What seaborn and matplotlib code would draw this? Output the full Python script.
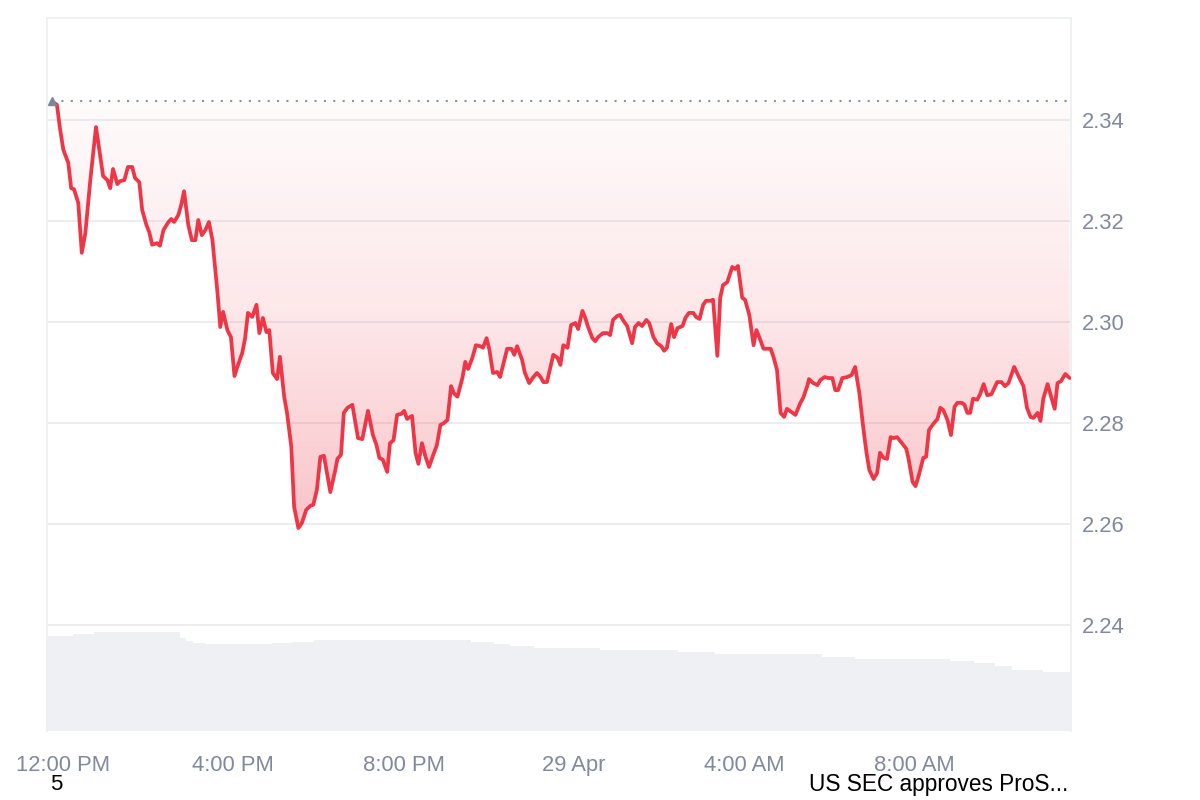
import numpy as np
import pandas as pd
import matplotlib
matplotlib.use("Agg")
import matplotlib.pyplot as plt
import matplotlib.dates as mdates
from matplotlib.colors import LinearSegmentedColormap
import seaborn as sns

# ---------------- data ----------------
start_time = "2025-04-28 12:00"   # minutes below are relative to this moment

minutes = [-15, -8, -4, 1, 8, 12, 16, 22, 27, 32, 39, 47, 51, 57, 63, 67, 71, 77, 81, 87,
           92, 98, 102, 108, 112, 118, 122, 126, 133, 137, 142, 149, 153, 157, 163, 167, 171, 177, 182, 187,
           191, 196, 201, 206, 211, 218, 222, 226, 232, 237, 242, 247, 253, 257, 261, 267, 273, 277, 282, 287,
           291, 296, 302, 306, 312, 316, 322, 326, 332, 337, 343, 349, 353, 358, 363, 368, 377, 384, 387, 392,
           396, 401, 408, 416, 422, 430, 437, 442, 446, 451, 457, 461, 466, 471, 477, 481, 485, 492, 497, 501,
           506, 511, 516, 522, 527, 532, 537, 542, 547, 551, 556, 563, 567, 571, 577, 582, 588, 592, 597, 601,
           606, 612, 616, 620, 626, 632, 636, 640, 647, 651, 657, 663, 668, 673, 677, 682, 687, 691, 697, 701,
           705, 711, 716, 722, 726, 732, 736, 740, 746, 750, 754, 761, 767, 771, 775, 781, 785, 789, 795, 802,
           806, 811, 816, 822, 826, 832, 837, 843, 847, 851, 857, 861, 866, 873, 877, 882, 888, 892, 897, 902,
           906, 912, 916, 922, 926, 930, 936, 943, 947, 951, 957, 961, 967, 973, 977, 981, 987, 992, 997, 1001,
           1006, 1011, 1016, 1020, 1028, 1032, 1039, 1043, 1049, 1051, 1057, 1063, 1067, 1073, 1078, 1084, 1088, 1092, 1098, 1105,
           1111, 1116, 1122, 1127, 1132, 1136, 1142, 1147, 1151, 1156, 1161, 1166, 1170, 1175, 1182, 1188, 1191, 1197, 1201, 1205,
           1212, 1216, 1220, 1226, 1232, 1236, 1240, 1246, 1251, 1256, 1260, 1266, 1270, 1274, 1278, 1282, 1288, 1292, 1297, 1302,
           1308, 1316, 1322, 1327, 1332, 1340, 1346, 1353, 1358, 1363, 1367, 1373, 1377, 1381, 1387, 1392, 1397, 1401, 1406, 1412,
           1418]

price = [2.3437, 2.3430, 2.3386, 2.3341, 2.3315, 2.3265, 2.3263, 2.3236, 2.3137, 2.3176, 2.3281, 2.3386, 2.3347, 2.3289, 2.3281, 2.3265, 2.3303, 2.3273, 2.3279, 2.3281,
         2.3307, 2.3307, 2.3285, 2.3277, 2.3222, 2.3192, 2.3178, 2.3153, 2.3156, 2.3151, 2.3182, 2.3198, 2.3204, 2.3198, 2.3212, 2.3232, 2.3259, 2.3192, 2.3162, 2.3162,
         2.3202, 2.3172, 2.3182, 2.3198, 2.3162, 2.3059, 2.2990, 2.3020, 2.2984, 2.2970, 2.2893, 2.2915, 2.2939, 2.2968, 2.3018, 2.3010, 2.3034, 2.2978, 2.3008, 2.2980,
         2.2984, 2.2899, 2.2887, 2.2931, 2.2852, 2.2820, 2.2753, 2.2634, 2.2592, 2.2602, 2.2628, 2.2636, 2.2638, 2.2667, 2.2733, 2.2735, 2.2663, 2.2707, 2.2729, 2.2737,
         2.2820, 2.2830, 2.2836, 2.2770, 2.2768, 2.2824, 2.2776, 2.2756, 2.2731, 2.2727, 2.2703, 2.2760, 2.2766, 2.2816, 2.2818, 2.2824, 2.2808, 2.2814, 2.2741, 2.2719,
         2.2760, 2.2733, 2.2713, 2.2737, 2.2756, 2.2796, 2.2800, 2.2806, 2.2873, 2.2859, 2.2852, 2.2889, 2.2921, 2.2907, 2.2929, 2.2954, 2.2952, 2.2949, 2.2968, 2.2945,
         2.2899, 2.2901, 2.2891, 2.2913, 2.2947, 2.2947, 2.2935, 2.2952, 2.2925, 2.2899, 2.2879, 2.2891, 2.2899, 2.2891, 2.2881, 2.2881, 2.2911, 2.2935, 2.2929, 2.2915,
         2.2954, 2.2949, 2.2994, 2.2998, 2.2986, 2.3022, 2.3008, 2.2990, 2.2968, 2.2962, 2.2970, 2.2978, 2.2978, 2.2974, 2.3004, 2.3012, 2.3014, 2.3004, 2.2992, 2.2958,
         2.2990, 2.2998, 2.2992, 2.3004, 2.2998, 2.2970, 2.2958, 2.2952, 2.2943, 2.2949, 2.2996, 2.2970, 2.2988, 2.2992, 2.3008, 2.3018, 2.3018, 2.3010, 2.3006, 2.3034,
         2.3042, 2.3042, 2.3044, 2.2933, 2.3048, 2.3073, 2.3079, 2.3109, 2.3105, 2.3111, 2.3048, 2.3044, 2.3014, 2.2954, 2.2984, 2.2970, 2.2947, 2.2947, 2.2947, 2.2931,
         2.2905, 2.2820, 2.2812, 2.2828, 2.2820, 2.2816, 2.2840, 2.2850, 2.2875, 2.2887, 2.2879, 2.2875, 2.2885, 2.2891, 2.2889, 2.2889, 2.2865, 2.2865, 2.2889, 2.2891,
         2.2895, 2.2911, 2.2859, 2.2796, 2.2741, 2.2707, 2.2689, 2.2701, 2.2741, 2.2731, 2.2729, 2.2772, 2.2770, 2.2772, 2.2760, 2.2749, 2.2731, 2.2683, 2.2675, 2.2693,
         2.2731, 2.2733, 2.2786, 2.2798, 2.2808, 2.2830, 2.2826, 2.2806, 2.2776, 2.2832, 2.2840, 2.2840, 2.2836, 2.2820, 2.2820, 2.2848, 2.2846, 2.2857, 2.2877, 2.2855,
         2.2857, 2.2881, 2.2881, 2.2873, 2.2879, 2.2911, 2.2893, 2.2873, 2.2830, 2.2812, 2.2810, 2.2820, 2.2804, 2.2848, 2.2877, 2.2852, 2.2828, 2.2879, 2.2883, 2.2897,
         2.2889]

# trailing volume (millions), step edges in minutes
vol_minutes = [-22, 15, 44, 165, 174, 184, 201, 295, 322, 354, 575, 608, 630, 664, 757, 867,
               919, 1070, 1116, 1249, 1283, 1313, 1337, 1380, 1420]
volume = [950, 970, 987, 927, 903, 883, 870, 880, 885, 907, 890, 870, 850, 827, 810, 787,
          770, 743, 720, 703, 677, 650, 610, 593]

tick_times = ["2025-04-28 12:00", "2025-04-28 16:00", "2025-04-28 20:00",
              "2025-04-29 00:00", "2025-04-29 04:00", "2025-04-29 08:00"]
tick_labels = ["12:00 PM", "4:00 PM", "8:00 PM", "29 Apr", "4:00 AM", "8:00 AM"]
y_ticks = [2.24, 2.26, 2.28, 2.30, 2.32, 2.34]
y_limits = (2.219, 2.3602)
x_limits_min = (-22, 1420)
news_count = "5"
news_title = "US SEC approves ProS..."

# ---------------- style ----------------
sns.set_theme(style="white")
plt.rcParams["font.family"] = ["Liberation Sans", "DejaVu Sans"]

LINE = "#ee3646"
TICK = "#808a9c"
GRID = "#ececef"
SPINE = "#eeeff2"
VOL = "#eef0f3"

base = pd.Timestamp(start_time)
times = base + pd.to_timedelta(minutes, unit="m")
df = pd.DataFrame({"time": times, "price": price})
ref_price = price[0]

fig = plt.figure(figsize=(12, 8), dpi=100)
ax = fig.add_axes([47 / 1200, 1 - 731 / 800, (1071 - 47) / 1200, (731 - 18) / 800])
ax2 = ax.twinx()

# volume area (behind)
vt = base + pd.to_timedelta(vol_minutes, unit="m")
ax2.fill_between(vt, volume + [volume[-1]], 0, step="post", color=VOL, lw=0)
ax2.set_ylim(0, (731 - 18) * 10)
ax2.set_yticks([])
for s in ax2.spines.values():
    s.set_visible(False)

ax.set_zorder(ax2.get_zorder() + 1)
ax.patch.set_visible(False)

# price line
sns.lineplot(data=df, x="time", y="price", ax=ax, color=LINE, linewidth=2.7, sort=False,
             zorder=4, solid_joinstyle="round", solid_capstyle="round")

# gradient fill between line and reference price
poly = ax.fill_between(df["time"], df["price"], ref_price, color="none", lw=0)
path = poly.get_paths()[0]
xnum = mdates.date2num(times)
cmap = LinearSegmentedColormap.from_list(
    "g", [(0.937, 0.22, 0.28, 0.30), (0.937, 0.22, 0.28, 0.12), (0.937, 0.22, 0.28, 0.02)])
grad = np.linspace(0, 1, 256).reshape(-1, 1)
im = ax.imshow(grad, extent=[xnum[0], xnum[-1], min(price), ref_price], origin="lower",
               aspect="auto", cmap=cmap, zorder=2, interpolation="bicubic")
im.set_clip_path(path, transform=ax.transData)

# reference dotted line and start marker
ax.hlines(ref_price, times[0], base + pd.Timedelta(minutes=x_limits_min[1]), colors="#8a93a3",
          linestyles=(0, (1, 3.5)), linewidth=1.5, zorder=3)
ax.plot([times[0]], [ref_price], marker="^", color="#7d8799", markersize=6, zorder=5, lw=0)

ax.set_xlim(base + pd.Timedelta(minutes=x_limits_min[0]), base + pd.Timedelta(minutes=x_limits_min[1]))
ax.set_ylim(*y_limits)

ax.set_xticks(pd.to_datetime(tick_times))
ax.set_xticklabels(tick_labels)
ax.yaxis.tick_right()
ax.set_yticks(y_ticks)
ax.set_yticklabels([f"{v:.2f}" for v in y_ticks])
ax.tick_params(axis="both", length=0, colors=TICK, labelsize=15.8)
ax.tick_params(axis="x", pad=17)
ax.tick_params(axis="y", pad=8)
ax.get_xticklabels()[0].set_x(0)
ax.set_xlabel("")
ax.set_ylabel("")
ax.yaxis.grid(True, color=GRID, linewidth=1.3)
ax.xaxis.grid(False)

for name, s in ax.spines.items():
    s.set_color(SPINE)
    s.set_linewidth(1.3)
ax.spines["bottom"].set_visible(False)

fig.text(56 / 1200, 1 - 785 / 800, news_count, ha="center", va="center", fontsize=16, color="black")
fig.text(1068 / 1200, 1 - 785 / 800, news_title, ha="right", va="center", fontsize=16.3, color="black")

fig.savefig("out.png", dpi=100)
